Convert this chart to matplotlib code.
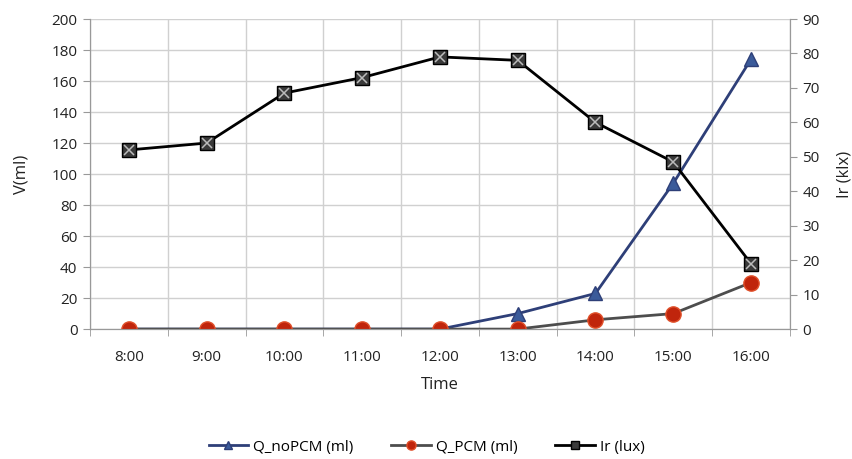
import matplotlib.pyplot as plt
import numpy as np

plt.rcParams['font.family'] = ['Open Sans', 'DejaVu Sans']

times = ["8:00", "9:00", "10:00", "11:00", "12:00", "13:00", "14:00", "15:00", "16:00"]
q_nopcm = [0, 0, 0, 0, 0, 10, 23, 94, 174]
q_pcm = [0, 0, 0, 0, 0, 0, 6, 10, 30]
ir = [52, 54, 68.5, 73, 79, 78, 60, 48.5, 19]

x = np.arange(len(times))

fig = plt.figure(figsize=(8.53, 4.59), dpi=100)
ax = fig.add_axes([0.1055, 0.283, 0.8205, 0.6756])
ax2 = ax.twinx()

# left axis series
l1, = ax.plot(x, q_nopcm, color="#2e3f78", lw=2, marker="^", ms=10,
              mfc="#3b5b9a", mec="#2e3f78", zorder=3)
l2, = ax.plot(x, q_pcm, color="#4d4d4d", lw=2, marker="o", ms=11,
              mfc="#c0250c", mec="#e0502a", zorder=3)

# irradiance on right axis
l3, = ax2.plot(x, ir, color="black", lw=2, marker="s", ms=10,
               mfc="#3a3a3a", mec="black", zorder=3)
ax2.plot(x, ir, ls="none", marker="x", ms=7, mec="#bbbbbb", mew=1.1, zorder=4)

ax.set_xlim(-0.5, len(times) - 0.5)
ax.set_ylim(0, 200)
ax.set_yticks(np.arange(0, 201, 20))
ax2.set_ylim(0, 90)
ax2.set_yticks(np.arange(0, 91, 10))

ax.set_xticks(x)
ax.set_xticklabels(times)
ax.set_xticks(np.arange(-0.5, len(times), 1), minor=True)
ax.tick_params(axis="x", which="major", length=0, pad=15)
ax.tick_params(axis="x", which="minor", length=5, color="#999999")
ax.tick_params(axis="y", length=5, color="#999999", pad=4)
ax2.tick_params(axis="y", length=5, color="#999999", pad=4)

ax.grid(True, axis="y", color="#d0d0d0", lw=1)
ax.grid(True, axis="x", which="minor", color="#d0d0d0", lw=1)
ax.set_axisbelow(True)

for a in (ax, ax2):
    a.spines["top"].set_visible(False)
    for s in ("left", "right", "bottom"):
        a.spines[s].set_color("#999999")
    a.tick_params(labelsize=11, labelcolor="#222222")

ax.set_xlabel("Time", fontsize=12, color="#222222", labelpad=9)
ax.set_ylabel("V(ml)", fontsize=12, color="#222222", labelpad=16)
ax2.set_ylabel("Ir (klx)", fontsize=12, color="#222222", labelpad=12)

fig.legend([l1, l2, l3], ["Q_noPCM (ml)", "Q_PCM (ml)", "Ir (lux)"],
           loc="center", bbox_to_anchor=(0.5, 0.026), ncol=3, frameon=False,
           fontsize=11, markerscale=0.6, handlelength=2.6, columnspacing=2.5,
           handletextpad=0.3)

fig.savefig("out.png", dpi=100)
